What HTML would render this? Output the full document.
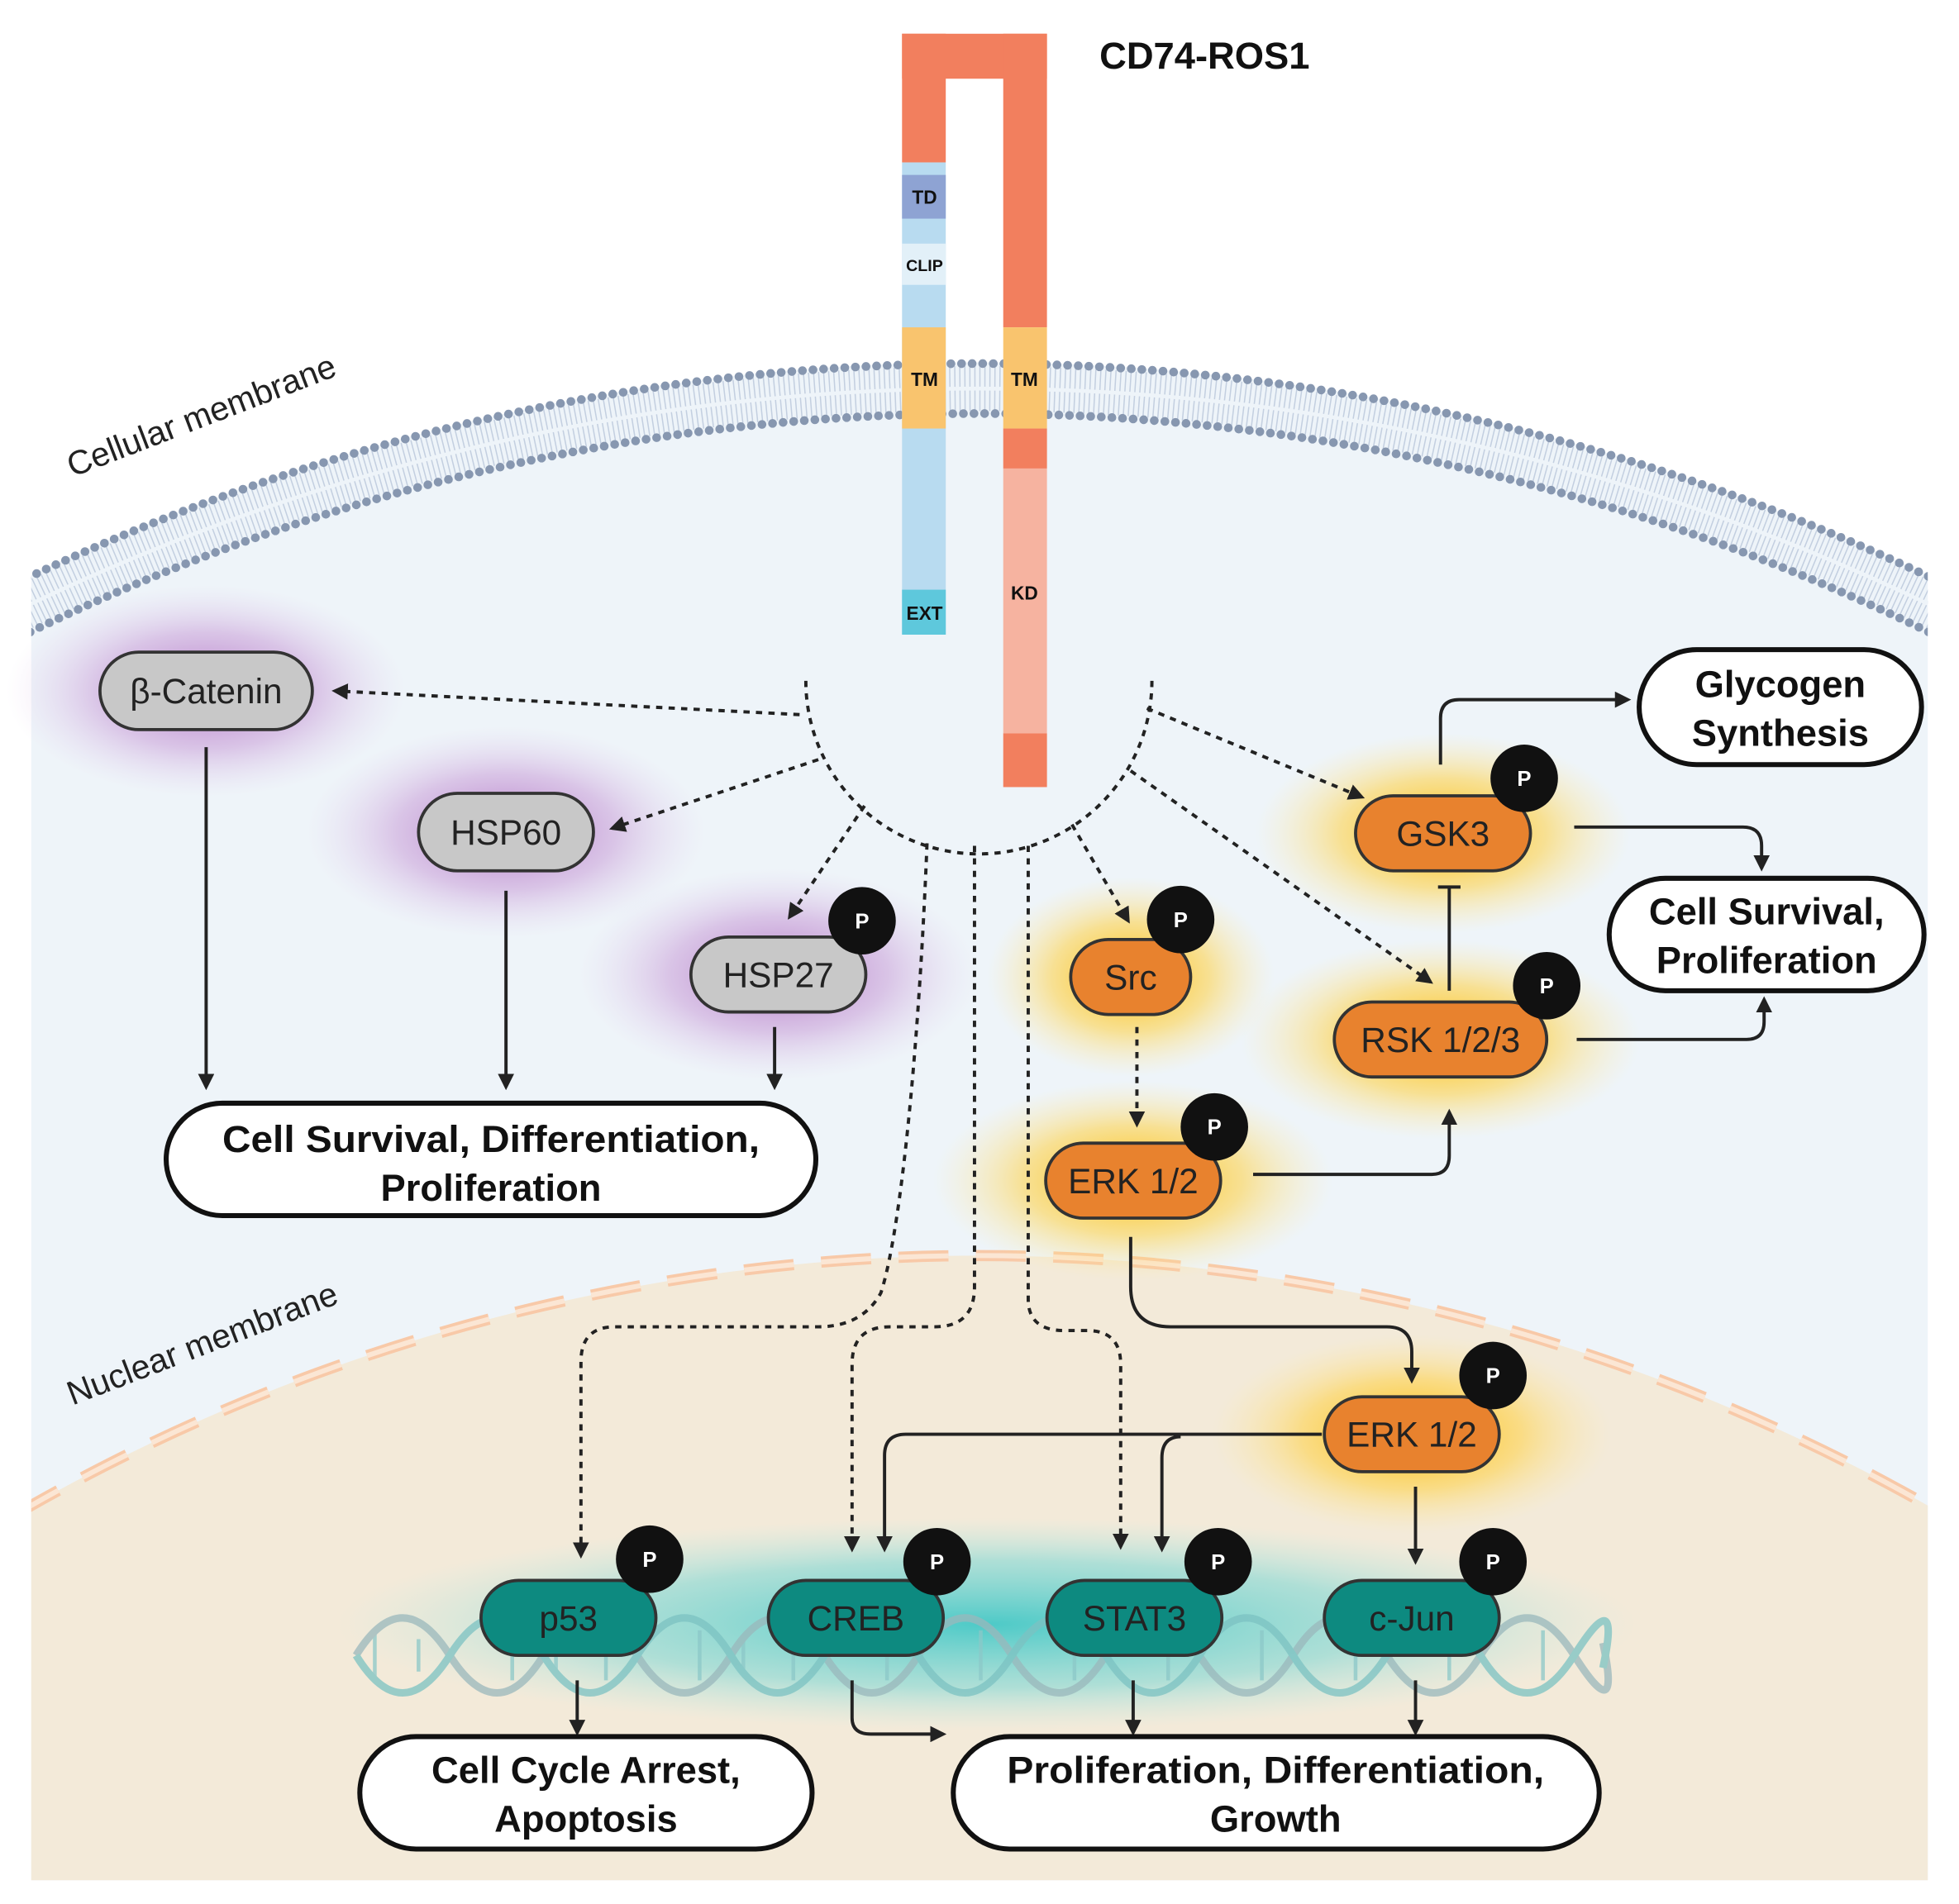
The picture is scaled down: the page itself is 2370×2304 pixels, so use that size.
<!DOCTYPE html>
<html><head><meta charset="utf-8"><style>
html,body{margin:0;padding:0;background:#fff;width:2370px;height:2304px;overflow:hidden}
svg{display:block}
text{font-family:"Liberation Sans",Arial,sans-serif}
</style></head><body>
<svg width="2370" height="2304" viewBox="0 0 1568 1524" preserveAspectRatio="none" xmlns="http://www.w3.org/2000/svg">
<defs>
<clipPath id="cell"><rect x="25" y="0" width="1518" height="1505"/></clipPath>
<radialGradient id="gp"><stop offset="0" stop-color="#a860bc" stop-opacity="0.85"/><stop offset="0.55" stop-color="#c08ad0" stop-opacity="0.45"/><stop offset="1" stop-color="#e0c8ea" stop-opacity="0"/></radialGradient>
<radialGradient id="go"><stop offset="0" stop-color="#ffba00" stop-opacity="1"/><stop offset="0.55" stop-color="#ffd040" stop-opacity="0.55"/><stop offset="1" stop-color="#ffe9a0" stop-opacity="0"/></radialGradient>
<radialGradient id="gt"><stop offset="0" stop-color="#30c4c4" stop-opacity="0.85"/><stop offset="0.6" stop-color="#6ad4d4" stop-opacity="0.5"/><stop offset="1" stop-color="#b0e8e8" stop-opacity="0"/></radialGradient>
<marker id="a" viewBox="0 0 10 10" refX="8" refY="5" markerWidth="5" markerHeight="5" orient="auto"><path d="M0,0 L10,5 L0,10 z" fill="#222"/></marker>
</defs>
<g clip-path="url(#cell)">
<circle cx="784" cy="2069" r="1779" fill="#eef4f9"/>
<circle cx="784" cy="2545" r="1540" fill="#f3ead9"/>
<circle cx="784" cy="2545" r="1540" fill="none" stroke="#f8c9a8" stroke-width="9" stroke-dasharray="40 22"/>
<circle cx="784" cy="2545" r="1540" fill="none" stroke="#fbe6d4" stroke-width="4" stroke-dasharray="40 22"/>
<circle cx="784" cy="2069" r="1758" fill="none" stroke="#c3cfe0" stroke-width="36" stroke-dasharray="1 3"/>
<circle cx="784" cy="2069" r="1758" fill="none" stroke="#eef4f9" stroke-width="3"/>
<circle cx="784" cy="2069" r="1778" fill="none" stroke="#8797b0" stroke-width="7" stroke-dasharray="0 8.5" stroke-linecap="round"/>
<circle cx="784" cy="2069" r="1738" fill="none" stroke="#8797b0" stroke-width="7" stroke-dasharray="0 8.5" stroke-linecap="round"/>
</g>
<text x="0" y="0" font-size="27" fill="#222" transform="translate(58,382) rotate(-21)">Cellular membrane</text>
<text x="0" y="0" font-size="27" fill="#222" transform="translate(58,1125) rotate(-21)">Nuclear membrane</text>

<!-- glows -->
<ellipse cx="165" cy="553" rx="160" ry="85" fill="url(#gp)"/>
<ellipse cx="405" cy="666" rx="160" ry="85" fill="url(#gp)"/>
<ellipse cx="623" cy="780" rx="160" ry="85" fill="url(#gp)"/>
<ellipse cx="905" cy="782" rx="115" ry="80" fill="url(#go)"/>
<ellipse cx="1155" cy="667" rx="150" ry="80" fill="url(#go)"/>
<ellipse cx="1153" cy="832" rx="160" ry="80" fill="url(#go)"/>
<ellipse cx="907" cy="945" rx="160" ry="80" fill="url(#go)"/>
<ellipse cx="1130" cy="1148" rx="160" ry="80" fill="url(#go)"/>
<ellipse cx="790" cy="1300" rx="520" ry="85" fill="url(#gt)"/>

<!-- DNA -->
<g fill="none" stroke-width="6" opacity="0.75">
<g stroke="#8cc8c8" stroke-width="3">
<path d="M300,1305 V1345 M335,1312 V1338 M410,1305 V1345 M445,1312 V1338 M485,1305 V1345 M560,1305 V1345 M595,1312 V1338 M635,1305 V1345 M710,1305 V1345 M785,1305 V1345 M860,1305 V1345 M935,1305 V1345 M1010,1305 V1345 M1085,1305 V1345 M1160,1305 V1345 M1235,1305 V1345"/>
</g>
<path d="M285,1325 Q322,1265 360,1325 T435,1325 T510,1325 T585,1325 T660,1325 T735,1325 T810,1325 T885,1325 T960,1325 T1035,1325 T1110,1325 T1185,1325 T1260,1325 T1283,1315" stroke="#9ab8bc"/>
<path d="M285,1325 Q322,1385 360,1325 T435,1325 T510,1325 T585,1325 T660,1325 T735,1325 T810,1325 T885,1325 T960,1325 T1035,1325 T1110,1325 T1185,1325 T1260,1325 T1283,1335" stroke="#7cc2c2"/>
</g>

<!-- fusion protein -->
<rect x="722" y="27" width="116" height="36" fill="#f27f5e"/>
<rect x="722" y="27" width="35" height="103" fill="#f27f5e"/>
<rect x="722" y="130" width="35" height="378" fill="#b8dbf0"/>
<rect x="722" y="140" width="35" height="35" fill="#8ea3d3"/>
<rect x="722" y="195" width="35" height="33" fill="#e2f0f8"/>
<rect x="722" y="262" width="35" height="81" fill="#f9c46e"/>
<rect x="722" y="472" width="35" height="36" fill="#5ec8dc"/>
<rect x="803" y="27" width="35" height="235" fill="#f27f5e"/>
<rect x="803" y="262" width="35" height="81" fill="#f9c46e"/>
<rect x="803" y="343" width="35" height="32" fill="#f27f5e"/>
<rect x="803" y="375" width="35" height="212" fill="#f6b3a0"/>
<rect x="803" y="587" width="35" height="43" fill="#f27f5e"/>
<g font-size="15" font-weight="bold" text-anchor="middle" fill="#111">
<text x="740" y="163">TD</text><text x="740" y="217" font-size="13">CLIP</text>
<text x="740" y="309">TM</text><text x="820" y="309">TM</text>
<text x="740" y="496">EXT</text><text x="820" y="480">KD</text>
</g>
<text x="880" y="55" font-size="30" font-weight="bold" fill="#111">CD74-ROS1</text>

<!-- dashed connectors -->
<g fill="none" stroke="#222" stroke-width="2.6" stroke-dasharray="5 5">
<path d="M645,545 A138,138 0 0,0 922,545"/>
<path d="M640,572 L268,553" marker-end="url(#a)"/>
<path d="M655,608 L490,663" marker-end="url(#a)"/>
<path d="M692,645 L632,734" marker-end="url(#a)"/>
<path d="M918,567 L1090,638" marker-end="url(#a)"/>
<path d="M905,617 L1145,786" marker-end="url(#a)"/>
<path d="M858,660 L903,737" marker-end="url(#a)"/>
<path d="M910,822 L910,900" marker-end="url(#a)"/>
<path d="M742,675 C735,850 720,990 705,1035 Q690,1062 655,1062 L492,1062 Q465,1062 465,1090 L465,1245" marker-end="url(#a)"/>
<path d="M780,677 L780,1030 Q780,1062 748,1062 L712,1062 Q682,1062 682,1092 L682,1240" marker-end="url(#a)"/>
<path d="M823,677 L823,1040 Q823,1065 852,1065 L870,1065 Q897,1065 897,1092 L897,1238" marker-end="url(#a)"/>
</g>
<!-- solid connectors -->
<g fill="none" stroke="#222" stroke-width="2.6">
<path d="M165,598 L165,870" marker-end="url(#a)"/>
<path d="M405,713 L405,870" marker-end="url(#a)"/>
<path d="M620,822 L620,870" marker-end="url(#a)"/>
<path d="M1153,612 L1153,575 Q1153,560 1168,560 L1303,560" marker-end="url(#a)"/>
<path d="M1260,662 L1395,662 Q1410,662 1410,677 L1410,695" marker-end="url(#a)"/>
<path d="M1160,793 L1160,710 M1151,710 L1169,710"/>
<path d="M1262,832 L1398,832 Q1412,832 1412,818 L1412,800" marker-end="url(#a)"/>
<path d="M1003,940 L1146,940 Q1160,940 1160,925 L1160,890" marker-end="url(#a)"/>
<path d="M905,990 L905,1030 Q905,1062 937,1062 L1110,1062 Q1130,1062 1130,1082 L1130,1105" marker-end="url(#a)"/>
<path d="M1058,1148 L725,1148 Q708,1148 708,1165 L708,1240" marker-end="url(#a)"/>
<path d="M945,1150 Q930,1150 930,1167 L930,1240" marker-end="url(#a)"/>
<path d="M1133,1190 L1133,1250" marker-end="url(#a)"/>
<path d="M462,1345 L462,1387" marker-end="url(#a)"/>
<path d="M682,1345 L682,1375 Q682,1388 697,1388 L755,1388" marker-end="url(#a)"/>
<path d="M907,1345 L907,1387" marker-end="url(#a)"/>
<path d="M1133,1345 L1133,1387" marker-end="url(#a)"/>
</g>

<!-- nodes -->
<g stroke="#333" stroke-width="2.5">
<rect x="80" y="522" width="170" height="62" rx="31" fill="#c8c8c8"/>
<rect x="335" y="635" width="140" height="62" rx="31" fill="#c8c8c8"/>
<rect x="553" y="750" width="140" height="60" rx="30" fill="#c8c8c8"/>
<rect x="857" y="752" width="96" height="60" rx="30" fill="#e8822e"/>
<rect x="1085" y="637" width="140" height="60" rx="30" fill="#e8822e"/>
<rect x="1068" y="802" width="170" height="60" rx="30" fill="#e8822e"/>
<rect x="837" y="915" width="140" height="60" rx="30" fill="#e8822e"/>
<rect x="1060" y="1118" width="140" height="60" rx="30" fill="#e8822e"/>
<rect x="385" y="1265" width="140" height="60" rx="30" fill="#0d8a80"/>
<rect x="615" y="1265" width="140" height="60" rx="30" fill="#0d8a80"/>
<rect x="838" y="1265" width="140" height="60" rx="30" fill="#0d8a80"/>
<rect x="1060" y="1265" width="140" height="60" rx="30" fill="#0d8a80"/>
</g>
<g font-size="28" text-anchor="middle" fill="#222">
<text x="165" y="563">β-Catenin</text>
<text x="405" y="676">HSP60</text>
<text x="623" y="790">HSP27</text>
<text x="905" y="792">Src</text>
<text x="1155" y="677">GSK3</text>
<text x="1153" y="842">RSK 1/2/3</text>
<text x="907" y="955">ERK 1/2</text>
<text x="1130" y="1158">ERK 1/2</text>
<text x="455" y="1305">p53</text>
<text x="685" y="1305">CREB</text>
<text x="908" y="1305">STAT3</text>
<text x="1130" y="1305">c-Jun</text>
</g>
<g fill="#111">
<circle cx="690" cy="737" r="27"/><circle cx="945" cy="736" r="27"/>
<circle cx="1220" cy="623" r="27"/><circle cx="1238" cy="789" r="27"/>
<circle cx="972" cy="902" r="27"/><circle cx="1195" cy="1101" r="27"/>
<circle cx="520" cy="1248" r="27"/><circle cx="750" cy="1250" r="27"/>
<circle cx="975" cy="1250" r="27"/><circle cx="1195" cy="1250" r="27"/>
</g>
<g font-size="17" font-weight="bold" fill="#fff" text-anchor="middle">
<text x="690" y="743">P</text><text x="945" y="742">P</text>
<text x="1220" y="629">P</text><text x="1238" y="795">P</text>
<text x="972" y="908">P</text><text x="1195" y="1107">P</text>
<text x="520" y="1254">P</text><text x="750" y="1256">P</text>
<text x="975" y="1256">P</text><text x="1195" y="1256">P</text>
</g>

<!-- outcome boxes -->
<g fill="#fff" stroke="#111" stroke-width="4">
<rect x="133" y="883" width="520" height="90" rx="45"/>
<rect x="1312" y="520" width="226" height="92" rx="46"/>
<rect x="1288" y="703" width="252" height="90" rx="45"/>
<rect x="288" y="1390" width="362" height="90" rx="45"/>
<rect x="763" y="1390" width="517" height="90" rx="45"/>
</g>
<g font-size="30" font-weight="bold" text-anchor="middle" fill="#111">
<text x="393" y="922" textLength="430" lengthAdjust="spacingAndGlyphs">Cell Survival, Differentiation,</text><text x="393" y="961">Proliferation</text>
<text x="1425" y="558">Glycogen</text><text x="1425" y="597">Synthesis</text>
<text x="1414" y="740">Cell Survival,</text><text x="1414" y="779">Proliferation</text>
<text x="469" y="1427">Cell Cycle Arrest,</text><text x="469" y="1466">Apoptosis</text>
<text x="1021" y="1427" textLength="430" lengthAdjust="spacingAndGlyphs">Proliferation, Differentiation,</text><text x="1021" y="1466">Growth</text>
</g>
</svg>
</body></html>
